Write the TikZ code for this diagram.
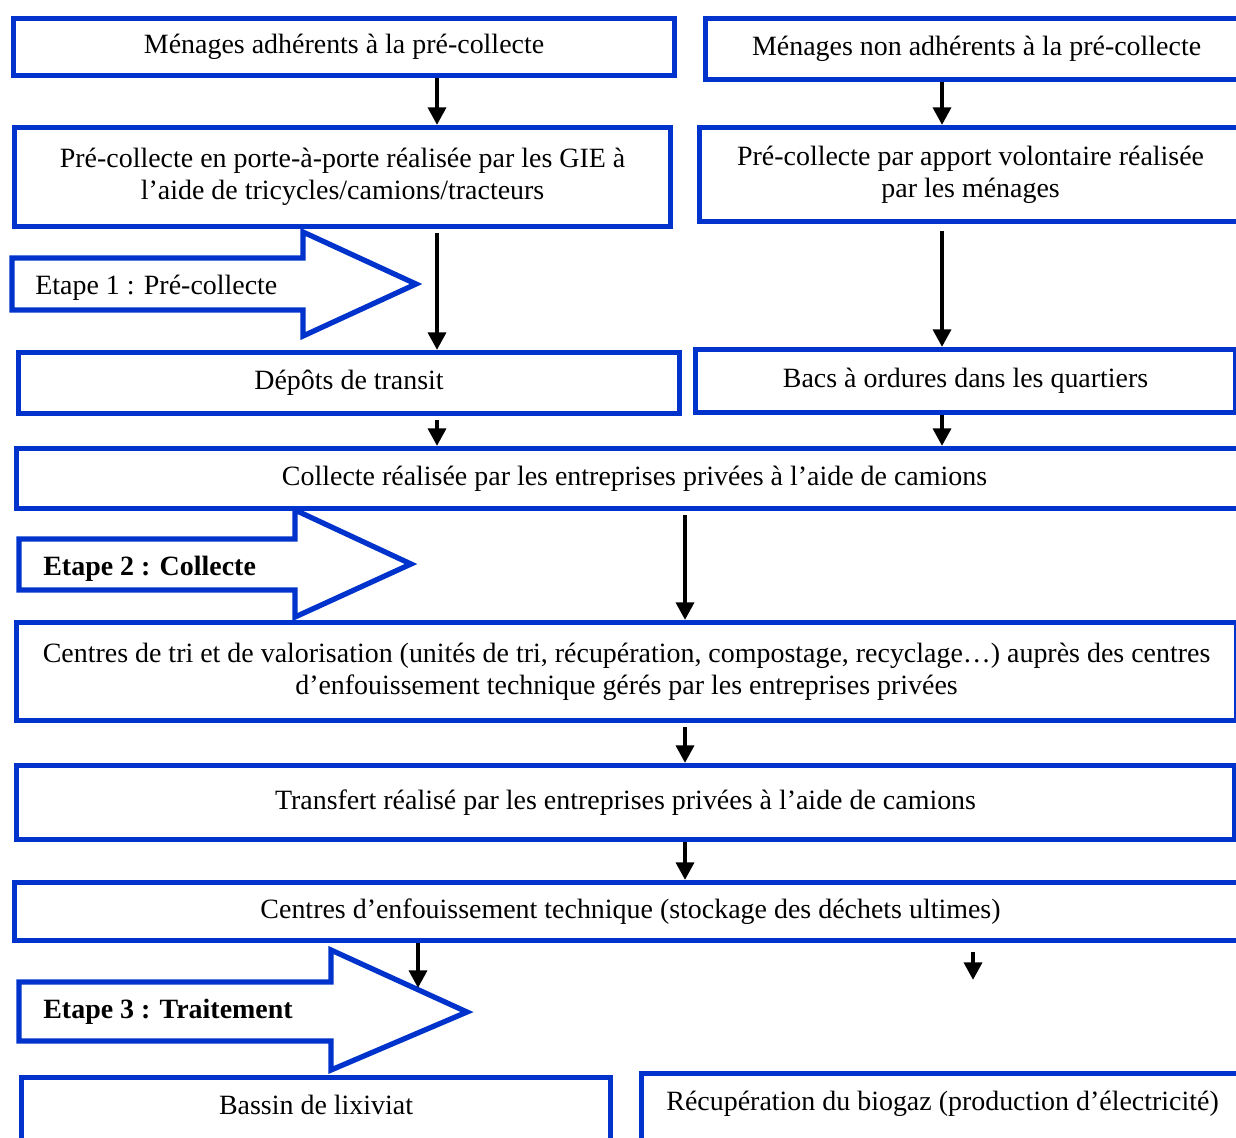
\documentclass[tikz,border=0pt]{standalone}
\usepackage{fontspec}
\setmainfont{Liberation Serif}
\usepackage{tikz}
\usetikzlibrary{arrows.meta, positioning, calc}
\definecolor{boxblue}{HTML}{0033CC}
\tikzset{
  % Boxes of the chain
  flowbox/.style={
    rectangle, draw=boxblue, line width=3pt, anchor=north west,
    align=center, inner sep=0pt, text=black,
    font=\fontsize{15.9}{18.2}\selectfont,
  },
  % Big hollow arrows of the stages
  stagearrow/.style={draw=boxblue, line width=3pt, fill=white, line join=miter},
  stagetext/.style={anchor=west, inner sep=0pt, text=black,
    font=\fontsize{15.9}{18.2}\selectfont},
  % Black arrows
  flow/.style={-{Triangle[length=10pt,width=10pt]}, line width=2.6pt, black},
}

\begin{document}
\begin{tikzpicture}[x=0.02cm, y=-0.02cm]
  \useasboundingbox (0,0) rectangle (1236,1137);
  \clip (0,0) rectangle (1236,1137);

  % Etape 1
  \node[flowbox, minimum width=13.22cm, minimum height=1.14cm] (adh) at (11,16)
    {Ménages adhérents à la pré-collecte};
  \node[flowbox, minimum width=10.84cm, minimum height=1.22cm] (nonadh) at (703,16)
    {Ménages non adhérents à la pré-collecte};
  \node[flowbox, minimum width=13.12cm, minimum height=1.98cm] (porte) at (12,125)
    {Pré-collecte en porte-à-porte réalisée par les GIE à\\
     l’aide de tricycles/camions/tracteurs};
  \node[flowbox, minimum width=10.84cm, minimum height=1.88cm] (apport) at (697,125)
    {Pré-collecte par apport volontaire réalisée\\ par les ménages};

  \draw[stagearrow] (12,258) -- (303,258) -- (303,232) -- (416,284)
    -- (303,336) -- (303,310) -- (12,310) -- cycle;
  \node[stagetext] (etape1) at (35,288) {Etape 1 : Pré-collecte};

  \node[flowbox, minimum width=13.22cm, minimum height=1.22cm] (depot) at (16,350)
    {Dépôts de transit};
  \node[flowbox, minimum width=10.80cm, minimum height=1.26cm] (bacs) at (693,347)
    {Bacs à ordures dans les quartiers};

  % Etape 2
  \node[flowbox, minimum width=24.72cm, minimum height=1.20cm] (collecte) at (14,446)
    {Collecte réalisée par les entreprises privées à l’aide de camions};

  \draw[stagearrow] (19,539) -- (295,539) -- (295,510) -- (411,564)
    -- (295,617) -- (295,590) -- (19,590) -- cycle;
  \node[stagetext, font=\fontsize{15.9}{18.2}\selectfont\bfseries] (etape2) at (43,569)
    {Etape 2 : Collecte};

  \node[flowbox, minimum width=24.40cm, minimum height=1.96cm] (tri) at (14,620)
    {Centres de tri et de valorisation (unités de tri, récupération, compostage, recyclage…) auprès des centres\\
     d’enfouissement technique gérés par les entreprises privées};
  \node[flowbox, minimum width=24.36cm, minimum height=1.48cm] (transfert) at (14,763)
    {Transfert réalisé par les entreprises privées à l’aide de camions};

  % Etape 3
  \node[flowbox, minimum width=24.64cm, minimum height=1.16cm] (cet) at (12,880)
    {Centres d’enfouissement technique (stockage des déchets ultimes)};

  \draw[stagearrow] (19,982) -- (331,982) -- (331,950) -- (467,1012)
    -- (331,1070) -- (331,1041) -- (19,1041) -- cycle;
  \node[stagetext, font=\fontsize{15.9}{18.2}\selectfont\bfseries] (etape3) at (43,1012)
    {Etape 3 : Traitement};

  \node[flowbox, minimum width=11.78cm, minimum height=2cm, text depth=26pt] (lixiviat) at (19,1075)
    {Bassin de lixiviat};
  \node[flowbox, minimum width=12.04cm, minimum height=2cm, text depth=26pt] (biogaz) at (639,1071)
    {Récupération du biogaz (production d’électricité)};

  % Arrows
  \coordinate (colL) at (437,0);
  \coordinate (colR) at (942,0);
  \coordinate (colM) at (685,0);
  \coordinate (lixend) at (418,988);
  \coordinate (bioend) at (973,980);

  \draw[flow] (adh.south -| colL) -- (porte.north -| colL);
  \draw[flow] (nonadh.south -| colR) -- (apport.north -| colR);
  \draw[flow, shorten <=2pt] (porte.south -| colL) -- (depot.north -| colL);
  \draw[flow, shorten <=4pt] (apport.south -| colR) -- (bacs.north -| colR);
  \draw[flow, shorten <=2pt] (depot.south -| colL) -- (collecte.north -| colL);
  \draw[flow] (bacs.south -| colR) -- (collecte.north -| colR);
  \draw[flow, shorten <=2pt] (collecte.south -| colM) -- (tri.north -| colM);
  \draw[flow, shorten <=2pt] (tri.south -| colM) -- (transfert.north -| colM);
  \draw[flow] (transfert.south -| colM) -- (cet.north -| colM);
  \draw[flow] (cet.south -| lixend) -- (lixend);
  \draw[flow, shorten <=5pt] (cet.south -| bioend) -- (bioend);
\end{tikzpicture}
\end{document}
